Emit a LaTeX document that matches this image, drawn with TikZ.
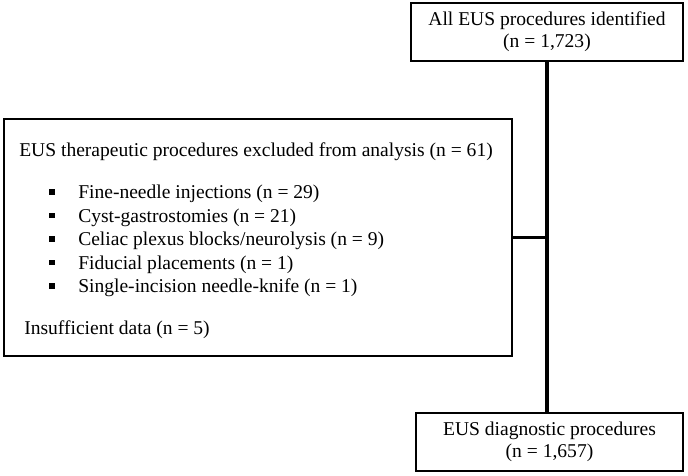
\documentclass[tikz,border=0pt]{standalone}
\usepackage{fontspec}
\setmainfont{Liberation Serif}
\usepackage{tikz}
\usetikzlibrary{positioning,calc}
\tikzstyle{box}  =[rectangle, draw, line width=0.9pt, inner sep=0pt,
                   align=center, font=\fontsize{13.9}{15.6}\selectfont]
\tikzstyle{txt}  =[inner sep=0pt, anchor=base west,
                   font=\fontsize{13.9}{16.7}\selectfont]
\tikzstyle{bul}  =[rectangle, fill=black, minimum size=4.2pt,
                   inner sep=0pt]
\tikzstyle{link} =[line width=2.5pt]

\begin{document}
\begin{tikzpicture}[x=0.025cm,y=-0.025cm]
    \useasboundingbox (0,0) rectangle (688,475);

    \draw (547,32) node (all) [box,minimum width=6.8cm,minimum height=1.45cm] {All EUS procedures identified\\(n = 1,723)};
    \draw (549.5,442) node (diag) [box,minimum width=6.675cm,minimum height=1.45cm] {EUS diagnostic procedures\\(n = 1,657)};
    \draw (258,237.5) node (excl) [box,minimum width=12.7cm,minimum height=5.925cm] {};

    \draw (19,156.5) node (title) [txt] {EUS therapeutic procedures excluded from analysis (n = 61)};
    \foreach \n/\y/\t in{1/198.5/{Fine-needle injections (n = 29)},
    2/222/{Cyst-gastrostomies (n = 21)},
    3/245.5/{Celiac plexus blocks/neurolysis (n = 9)},
    4/269/{Fiducial placements (n = 1)},
    5/292.5/{Single-incision needle-knife (n = 1)}}
    {
        \draw (52,\y-6.5) node (b\n) [bul] {};
        \draw (78,\y) node (item\n) [txt] {\t};
    }
    \draw (24,334.5) node (insuf) [txt] {Insufficient data (n = 5)};

    \coordinate (joint) at (all.south |- excl.east);
    \draw [link] (all.south) to (all.south |- diag.north);
    \draw [link] (excl.east) to (joint);

\end{tikzpicture}
\end{document}
